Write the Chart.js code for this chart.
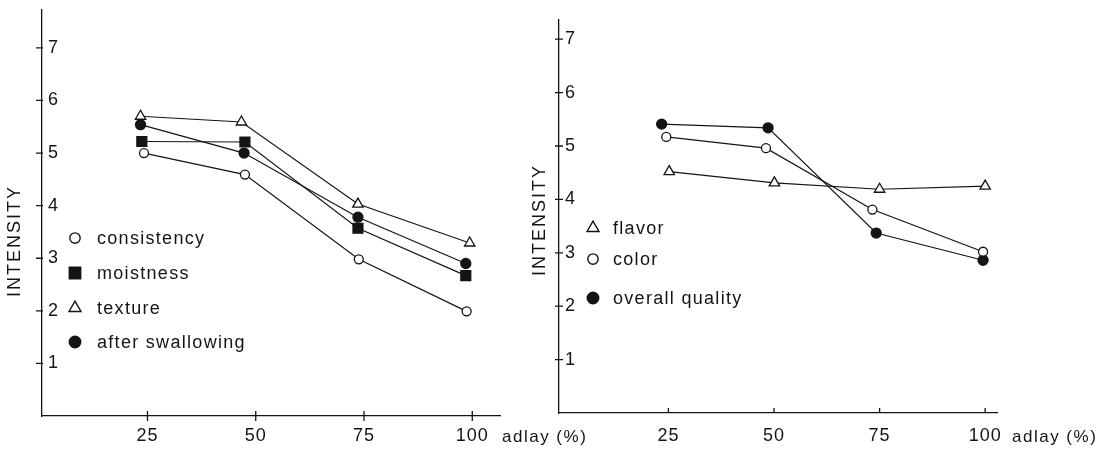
<!DOCTYPE html>
<html>
<head>
<meta charset="utf-8">
<script src="https://cdn.jsdelivr.net/npm/chart.js@4.4.0/dist/chart.umd.min.js"></script>
<style>
  html, body { margin: 0; padding: 0; background: #fff; }
  #wrap { position: relative; width: 1104px; height: 449px; overflow: hidden; }
  #left { position: absolute; left: 0; top: 0; }
  #right { position: absolute; left: 520px; top: 0; }
</style>
</head>
<body>
<div id="wrap">
  <canvas id="left" width="600" height="449"></canvas>
  <canvas id="right" width="584" height="449"></canvas>
</div>
<script>
// tick labels
const xTicks = [25, 50, 75, 100];
const yTicks = [1, 2, 3, 4, 5, 6, 7];

// left panel (points sit a little off the nominal 25/50/75/100 in the print)
const consistencyX = [24.2, 47.5, 73.8, 98.7];
const consistency = [5.00, 4.59, 2.98, 1.99];
const moistnessX = [23.7, 47.5, 73.6, 98.5];
const moistness = [5.22, 5.21, 3.57, 2.67];
const textureX = [23.4, 46.7, 73.6, 99.4];
const texture = [5.70, 5.59, 4.03, 3.29];
const swallowX = [23.4, 47.3, 73.6, 98.5];
const afterSwallowing = [5.54, 5.00, 3.78, 2.90];

// right panel
const flavorX = [25.2, 50.1, 75.0, 100.0];
const flavor = [4.52, 4.31, 4.19, 4.25];
const colorX = [24.5, 48.1, 73.3, 99.5];
const color = [5.17, 4.96, 3.81, 3.02];
const overallX = [23.4, 48.6, 74.2, 99.5];
const overallQuality = [5.41, 5.34, 3.37, 2.86];

const INK = '#141414';
const FONT = '"Liberation Sans", Arial, Helvetica, sans-serif';
Chart.defaults.font.family = FONT;
Chart.defaults.color = INK;

const pts = (xs, ys) => xs.map((x, i) => ({x: x, y: ys[i]}));

function series(label, xs, ys, style, radius, filled) {
  return {
    label: label,
    data: pts(xs, ys),
    showLine: true,
    borderColor: INK,
    borderWidth: 1.2,
    tension: 0,
    pointStyle: style,
    pointRadius: radius,
    pointBorderWidth: 1.3,
    pointBorderColor: INK,
    pointBackgroundColor: filled ? INK : '#fff'
  };
}

// tick marks across the axes, axis title, unit text and the in-plot key
const decor = {
  id: 'decor',
  beforeDraw(chart) {
    chart.ctx.letterSpacing = '1px';
  },
  afterDraw(chart, args, o) {
    const ctx = chart.ctx;
    const xs = chart.scales.x, ys = chart.scales.y;
    ctx.save();
    ctx.strokeStyle = INK;
    ctx.lineWidth = 1.3;
    ctx.beginPath();
    xs.ticks.forEach(t => {
      const px = xs.getPixelForValue(t.value);
      ctx.moveTo(px, xs.top - o.xIn);
      ctx.lineTo(px, xs.top + o.xOut);
    });
    ys.ticks.forEach(t => {
      const py = ys.getPixelForValue(t.value);
      ctx.moveTo(ys.right - o.yOut, py);
      ctx.lineTo(ys.right + o.yIn, py);
    });
    ctx.stroke();

    ctx.fillStyle = INK;
    ctx.font = '18px ' + FONT;
    ctx.letterSpacing = '2px';
    ctx.save();
    ctx.translate(o.titleX, o.titleY);
    ctx.rotate(-Math.PI / 2);
    ctx.textAlign = 'center';
    ctx.textBaseline = 'middle';
    ctx.fillText('INTENSITY', 0, 0);
    ctx.restore();

    ctx.font = '17px ' + FONT;
    ctx.letterSpacing = '1.5px';
    ctx.textAlign = 'left';
    ctx.textBaseline = 'middle';
    ctx.fillText('adlay (%)', o.unitX, o.unitY);

    // key markers are printed a bit larger than the plotted ones
    ctx.font = '18px ' + FONT;
    ctx.letterSpacing = '1.3px';
    chart.data.datasets.forEach((ds, i) => {
      const ry = o.rows[i];
      ctx.fillStyle = ds.pointBackgroundColor;
      ctx.strokeStyle = INK;
      ctx.lineWidth = 1.4;
      Chart.helpers.drawPoint(ctx, {
        pointStyle: ds.pointStyle, radius: ds.pointRadius * 1.15, rotation: 0, borderWidth: 1.4
      }, o.keyX, ry);
      ctx.fillStyle = INK;
      ctx.fillText(ds.label, o.textX, ry + 1);
    });
    ctx.restore();
  }
};

function noPad(s) {
  s.paddingTop = 0; s.paddingBottom = 0; s.paddingLeft = 0; s.paddingRight = 0;
}

function axes(xmin, xmax, ymax, yWidth, xHeight, xPad, yPad) {
  return {
    x: {
      type: 'linear', min: xmin, max: xmax,
      afterBuildTicks: s => { s.ticks = xTicks.map(v => ({value: v})); },
      afterFit: s => { s.height = xHeight; noPad(s); },
      grid: {display: false, drawTicks: false},
      border: {display: true, color: INK, width: 1.3},
      ticks: {color: INK, font: {size: 18}, padding: xPad, maxRotation: 0, autoSkip: false}
    },
    y: {
      type: 'linear', min: 0, max: ymax,
      afterBuildTicks: s => { s.ticks = yTicks.map(v => ({value: v})); },
      afterFit: s => { s.width = yWidth; noPad(s); },
      grid: {display: false, drawTicks: false},
      border: {display: true, color: INK, width: 1.3},
      ticks: {color: INK, font: {size: 18}, mirror: true, padding: yPad}
    }
  };
}

new Chart(document.getElementById('left'), {
  type: 'scatter',
  data: {
    datasets: [
      series('consistency', consistencyX, consistency, 'circle', 4.5, false),
      series('moistness', moistnessX, moistness, 'rect', 7, true),
      series('texture', textureX, texture, 'triangle', 6, false),
      series('after swallowing', swallowX, afterSwallowing, 'circle', 5, true)
    ]
  },
  options: {
    responsive: false,
    animation: false,
    layout: {padding: {top: 10, right: 100, bottom: 0, left: 0}},
    plugins: {
      legend: {display: false},
      tooltip: {enabled: false},
      decor: {
        xIn: 5, xOut: 5, yIn: 1, yOut: 6,
        titleX: 15, titleY: 241,
        unitX: 502, unitY: 437,
        keyX: 75, textX: 97, rows: [238, 273, 308, 342]
      }
    },
    scales: axes(0.65, 106.4, 7.72, 42, 33, 9, 6)
  },
  plugins: [decor]
});

new Chart(document.getElementById('right'), {
  type: 'scatter',
  data: {
    datasets: [
      series('flavor', flavorX, flavor, 'triangle', 6, false),
      series('color', colorX, color, 'circle', 4.5, false),
      series('overall quality', overallX, overallQuality, 'circle', 5, true)
    ]
  },
  options: {
    responsive: false,
    animation: false,
    layout: {padding: {top: 20, right: 107, bottom: 0, left: 0}},
    plugins: {
      legend: {display: false},
      tooltip: {enabled: false},
      decor: {
        xIn: 5, xOut: 0, yIn: 4, yOut: 4,
        titleX: 20, titleY: 220,
        unitX: 492, unitY: 437,
        keyX: 73, textX: 93, rows: [228, 259, 298]
      }
    },
    scales: axes(-0.9, 102.8, 7.36, 39, 36, 12, 6)
  },
  plugins: [decor]
});
</script>
</body>
</html>
